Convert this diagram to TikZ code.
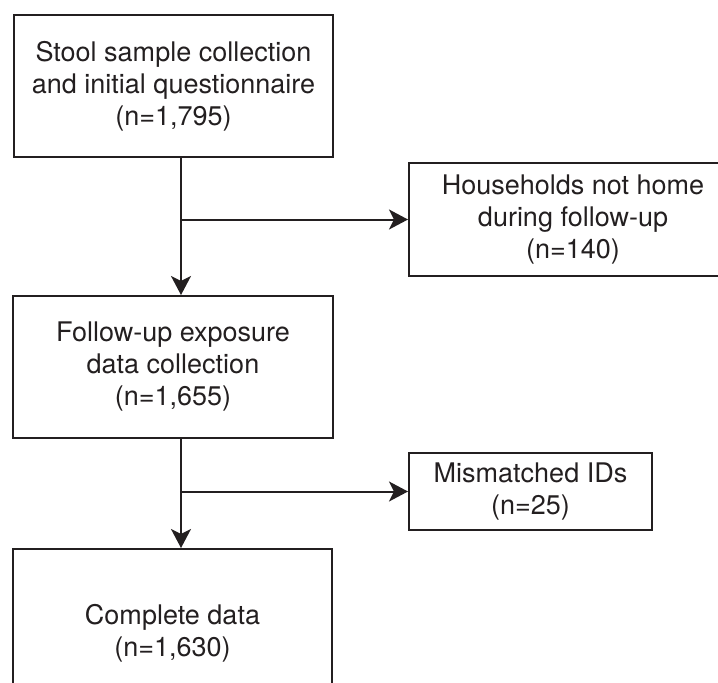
\documentclass[tikz,border=0pt]{standalone}
\usepackage{fontspec}
\setmainfont{TeX Gyre Heros}
\usepackage{tikz}
\usetikzlibrary{
  arrows.meta,
  positioning
}
\definecolor{InkBlack}{RGB}{35, 31, 32}
\tikzset{
    flowbox/.style={
        draw=InkBlack, line width=2pt, rectangle, inner sep=0pt,
        align=center, text=InkBlack,
        font=\fontsize{27}{32}\selectfont
    },
    flowarrow/.style={
        draw=InkBlack, line width=2pt,
        -{Stealth[length=19pt, width=20pt, inset=5pt]}
    }
}

\begin{document}
\begin{tikzpicture}[x=1pt, y=-1pt]
    \useasboundingbox (0,0) rectangle (718,683);
    \clip (0,0) rectangle (718,683);
    \node[flowbox, minimum width=319pt, minimum height=142pt] (stool) at (173.5,86) {
        Stool sample collection\\ and initial questionnaire\\ (n=1,795)
    };
    \node[flowbox, minimum width=328pt, minimum height=113pt] (nothome) at (573,219.5) {
        Households not home\\ during follow-up\\ (n=140)
    };
    \node[flowbox, minimum width=320pt, minimum height=142pt] (followup) at (173,367) {
        Follow-up exposure\\ data collection\\ (n=1,655)
    };
    \node[flowbox, minimum width=243pt, minimum height=77pt] (mismatch) at (530.5,491.5) {
        Mismatched IDs\\ (n=25)
    };
    \node[flowbox, minimum width=319pt, minimum height=168pt] (complete) at (172.5,633) {
        Complete data\\ (n=1,630)
    };
    % trunk of the flow
    \coordinate (trunk) at (181,0);
    \draw[flowarrow] (stool.south -| trunk) -- (followup.north -| trunk);
    \draw[flowarrow] (nothome.west -| trunk) -- (nothome.west);
    \draw[flowarrow] (followup.south -| trunk) -- (complete.north -| trunk);
    \draw[flowarrow] (mismatch.west -| trunk) -- (mismatch.west);
\end{tikzpicture}
\end{document}
